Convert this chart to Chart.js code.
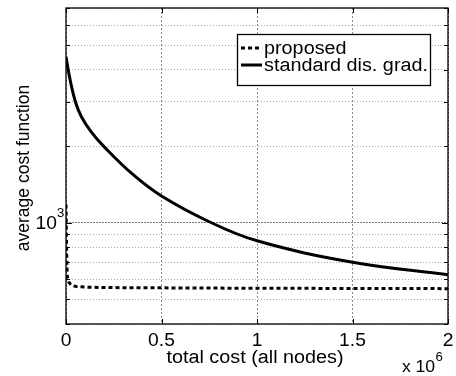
<!DOCTYPE html>
<html>
<head>
<meta charset="utf-8">
<script src="https://cdn.jsdelivr.net/npm/chart.js@4/dist/chart.umd.min.js"></script>
<style>
  html, body { margin: 0; padding: 0; background: #fff; }
  #wrap { width: 456px; height: 376px; }
</style>
</head>
<body>
<div id="wrap"><canvas id="cost-chart" width="456" height="376"></canvas></div>
<script>
// total cost (all nodes) vs average cost function
const proposedCost = [0, 3000, 6000, 10000, 20000, 40000, 80000, 200000, 500000, 1000000, 1500000, 2000000];
const proposedAvg = [1180, 800, 640, 600, 578, 565, 560, 557, 555, 553, 552, 551];

const standardCost = [0, 20000, 50000, 80000, 130000, 200000, 350000, 500000, 750000, 1000000, 1500000, 2000000];
const standardAvg = [4500, 3700, 2980, 2620, 2290, 1990, 1550, 1275, 1010, 850, 700, 625];

const xTicks = [0, 500000, 1000000, 1500000, 2000000];
const xTickLabels = ['0', '0.5', '1', '1.5', '2'];
const yTicks = [400, 500, 600, 700, 800, 900, 1000, 2000, 3000, 4000, 5000, 6000, 7000];

const FONT = '"Liberation Sans", Arial, Helvetica, sans-serif';

function toPoints(xs, ys) {
  return xs.map((x, i) => ({ x: x, y: ys[i] }));
}

// text is a little wider than it is tall
function wideText(c, text, x, y, size, align) {
  c.save();
  c.font = size + 'px ' + FONT;
  c.textAlign = align;
  c.textBaseline = 'middle';
  c.translate(x, y);
  c.scale(1.1, 1);
  c.fillText(text, 0, 0);
  c.restore();
}

// box, inward ticks, axis texts and the legend, MATLAB style
const decorations = {
  id: 'decorations',
  afterDraw(chart) {
    const c = chart.ctx;
    const a = chart.chartArea;
    const xs = chart.scales.x;
    const ys = chart.scales.y;
    c.save();

    // inward tick marks
    c.strokeStyle = '#000';
    c.lineWidth = 1;
    c.beginPath();
    yTicks.forEach(v => {
      const py = Math.round(ys.getPixelForValue(v)) + 0.5;
      const len = v === 1000 ? 6 : 4;
      c.moveTo(a.left, py); c.lineTo(a.left + len, py);
      c.moveTo(a.right, py); c.lineTo(a.right - len, py);
    });
    xTicks.forEach(v => {
      const px = Math.round(xs.getPixelForValue(v)) + 0.5;
      c.moveTo(px, a.bottom); c.lineTo(px, a.bottom - 5);
      c.moveTo(px, a.top); c.lineTo(px, a.top + 5);
    });
    c.stroke();

    // axes box
    c.lineWidth = 1.3;
    c.strokeRect(a.left, a.top, a.right - a.left, a.bottom - a.top);

    c.fillStyle = '#000';
    // x tick labels
    xTicks.forEach((v, i) => {
      wideText(c, xTickLabels[i], xs.getPixelForValue(v), 341, 17.5, 'center');
    });

    // y tick label 10^3
    const y1000 = ys.getPixelForValue(1000);
    wideText(c, '10', 57, y1000 + 1, 17.5, 'right');
    wideText(c, '3', 57, y1000 - 9, 12, 'left');

    // exponent of the x axis
    wideText(c, 'x', 402, 368, 16, 'left');
    wideText(c, '10', 435, 368, 16, 'right');
    wideText(c, '6', 435.5, 358, 12, 'left');

    // axis titles
    wideText(c, 'total cost (all nodes)', 255, 358, 18, 'center');
    c.save();
    c.font = '17.5px ' + FONT;
    c.textAlign = 'center';
    c.textBaseline = 'middle';
    c.translate(24, 168);
    c.rotate(-Math.PI / 2);
    c.fillText('average cost function', 0, 0);
    c.restore();

    // legend
    const lx = 237.5, ly = 34.5, lw = 193, lh = 51;
    c.fillStyle = '#fff';
    c.fillRect(lx, ly, lw, lh);
    c.lineWidth = 1.3;
    c.strokeStyle = '#000';
    c.strokeRect(lx, ly, lw, lh);
    const rows = [48, 65];
    chart.data.datasets.forEach((ds, i) => {
      c.beginPath();
      c.lineWidth = ds.borderWidth;
      c.setLineDash(ds.borderDash || []);
      c.moveTo(241, rows[i]);
      c.lineTo(262, rows[i]);
      c.stroke();
      c.setLineDash([]);
      c.fillStyle = '#000';
      wideText(c, ds.label, 264, rows[i] + 1, 18, 'left');
    });
    c.restore();
  }
};

const ctx = document.getElementById('cost-chart').getContext('2d');
const chart = new Chart(ctx, {
  type: 'line',
  data: {
    datasets: [{
      label: 'proposed',
      data: toPoints(proposedCost, proposedAvg),
      borderColor: '#000',
      borderWidth: 3,
      borderDash: [4, 3],
      borderCapStyle: 'butt',
      pointRadius: 0,
      cubicInterpolationMode: 'monotone',
      fill: false
    }, {
      label: 'standard dis. grad.',
      data: toPoints(standardCost, standardAvg),
      borderColor: '#000',
      borderWidth: 3,
      pointRadius: 0,
      tension: 0.4,
      fill: false
    }]
  },
  options: {
    responsive: false,
    animation: false,
    layout: { padding: { top: 8, right: 8, left: 0, bottom: 0 } },
    plugins: {
      legend: { display: false },
      tooltip: { enabled: false }
    },
    scales: {
      x: {
        type: 'linear',
        min: 0,
        max: 2000000,
        afterBuildTicks(scale) {
          scale.ticks = xTicks.map(v => ({ value: v }));
        },
        afterFit(scale) { scale.height = 52; },
        ticks: { display: false },
        grid: {
          drawTicks: false,
          color: '#8a8a8a',
          lineWidth: 1
        },
        border: { display: false, dash: [2, 2] }
      },
      y: {
        type: 'logarithmic',
        min: 400,
        max: 7000,
        afterBuildTicks(scale) {
          scale.ticks = yTicks.map(v => ({ value: v, major: v === 1000 }));
        },
        afterFit(scale) { scale.width = 66; },
        ticks: { display: false },
        grid: {
          drawTicks: false,
          color: (c) => c.tick && c.tick.value === 1000 ? '#7a7a7a' : '#a8a8a8',
          lineWidth: 1
        },
        border: {
          display: false,
          dash: (c) => c.tick && c.tick.value === 1000 ? [2, 1] : [1, 2]
        }
      }
    }
  },
  plugins: [decorations]
});
</script>
</body>
</html>
